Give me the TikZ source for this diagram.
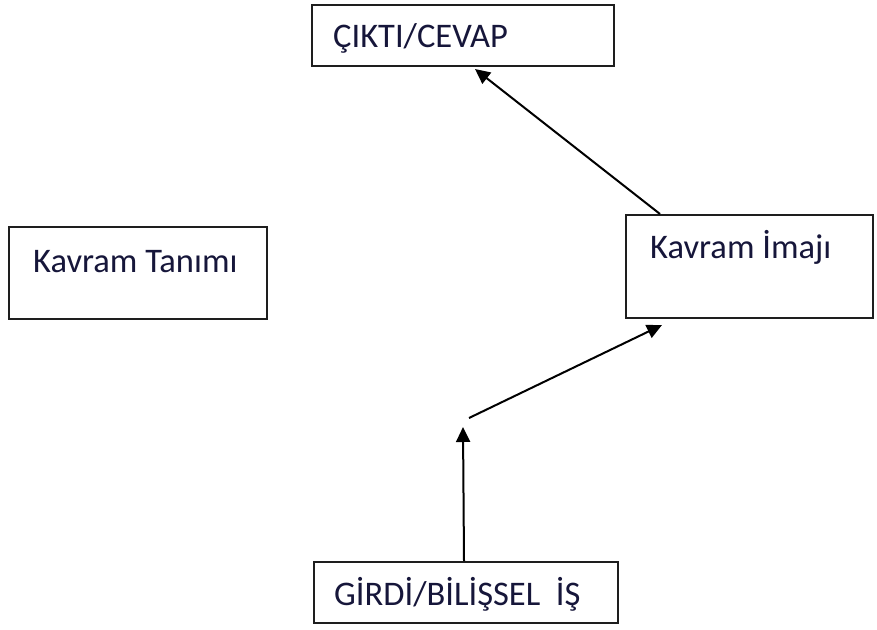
\documentclass[tikz,border=0pt]{standalone}
\usepackage{fontspec}
\setmainfont{Carlito}
\usetikzlibrary{arrows.meta}
\definecolor{txt}{HTML}{16163A}
\definecolor{edge}{HTML}{1E1E1E}
\begin{document}
\begin{tikzpicture}[x=1pt,y=-1pt,
  box/.style={draw=edge,line width=2pt,rectangle,inner sep=0pt,anchor=north west},
  lbl/.style={anchor=base west,inner sep=0pt,text=txt,font=\fontsize{34.5}{41}\selectfont},
  arr/.style={draw=black,line width=2pt,-{Triangle[length=15pt,width=14pt]}}]
\useasboundingbox[fill=white] (0,0) rectangle (877,629);
% boxes
\node[box,minimum width=302pt,minimum height=61pt] (cikti) at (311,4) {};
\node[box,minimum width=258pt,minimum height=92pt] (tanim) at (8,226) {};
\node[box,minimum width=247pt,minimum height=103pt] (imaji) at (625,214) {};
\node[box,minimum width=304pt,minimum height=61pt] (girdi) at (313,561) {};
% texts
\node[lbl] (tcikti) at (333,47) {ÇIKTI/CEVAP};
\node[lbl] (ttanim) at (33,272) {Kavram Tanımı};
\node[lbl] (timaji) at (650,258) {Kavram İmajı};
\node[lbl] (tgirdi) at (334,605) {GİRDİ/BİLİŞSEL~ İŞ};
% connectors
\coordinate (mid) at (469,418);
\coordinate (up) at (463,427);
\draw[arr] ([xshift=35pt]imaji.north west) -- ([xshift=164pt,yshift=-2pt]cikti.south west);
\draw[arr] (mid) -- ([xshift=37pt,yshift=-6pt]imaji.south west);
\draw[arr] ([xshift=151pt]girdi.north west) -- (up);
\end{tikzpicture}
\end{document}
